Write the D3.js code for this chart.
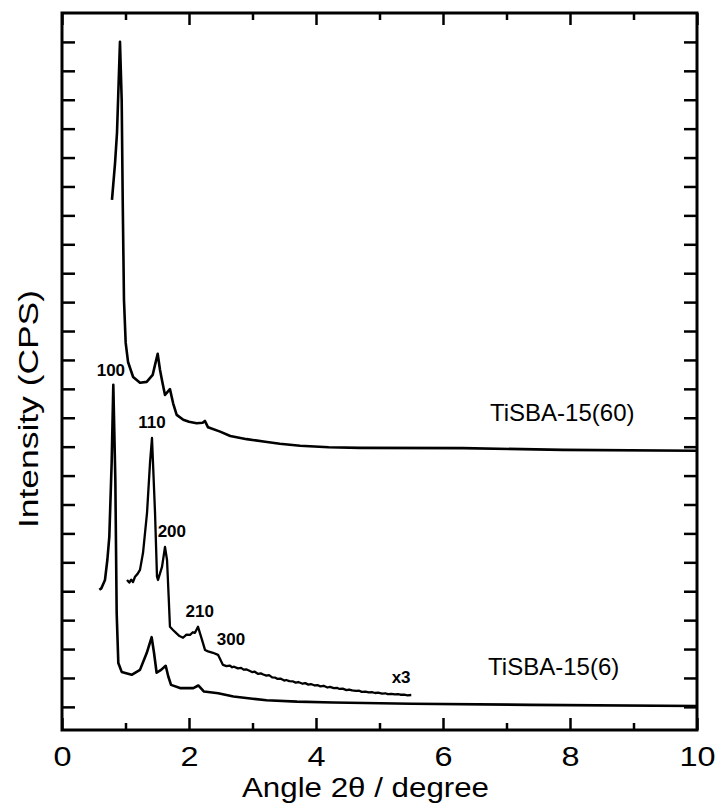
<!DOCTYPE html>
<html>
<head>
<meta charset="utf-8">
<script src="https://cdn.jsdelivr.net/npm/d3@7"></script>
<style>
  html, body { margin: 0; padding: 0; background: #fff; }
  svg { display: block; font-family: "Liberation Sans", Arial, sans-serif; }
</style>
</head>
<body>
<svg id="svg_xrd" width="719" height="808"></svg>
<script>
// TiSBA-15(60) trace  [2theta, intensity]
let tisba60 = [
    [0.787, 17.54], [0.835, 18.8], [0.866, 19.85], [0.913, 23.0], [0.94, 20.99],
    [0.956, 17.54], [0.976, 14.08], [1.003, 12.59], [1.04, 11.93], [1.12, 11.41],
    [1.228, 11.21], [1.334, 11.24], [1.428, 11.48], [1.465, 11.83], [1.507, 12.21],
    [1.543, 11.66], [1.58, 11.24], [1.622, 10.79], [1.70, 10.99], [1.75, 10.5],
    [1.806, 10.1], [1.91, 9.93], [2.0, 9.86], [2.12, 9.81], [2.215, 9.83], [2.25, 9.89],
    [2.30, 9.67], [2.49, 9.52], [2.65, 9.37], [2.91, 9.26], [3.2, 9.17], [3.43, 9.10],
    [3.75, 9.03], [4.2, 8.98], [4.69, 8.96], [6.31, 8.95], [7.89, 8.89], [10.0, 8.86]
]
// TiSBA-15(6) trace
let tisba6 = [
    [0.588, 4.05], [0.62, 4.1], [0.677, 4.39], [0.714, 5.08], [0.745, 5.88],
    [0.782, 8.44], [0.808, 11.14], [0.84, 7.85], [0.861, 3.25], [0.887, 1.52],
    [0.94, 1.21], [1.097, 1.11], [1.228, 1.28], [1.334, 1.86], [1.412, 2.41],
    [1.449, 1.87], [1.49, 1.18], [1.56, 1.28], [1.633, 1.42], [1.674, 1.05],
    [1.717, 0.76], [1.858, 0.65], [2.068, 0.65], [2.147, 0.74], [2.236, 0.53],
    [2.46, 0.47], [2.70, 0.36], [3.0, 0.28], [3.22, 0.23], [3.7, 0.18], [4.27, 0.15],
    [5.5, 0.11], [7.37, 0.07], [10.0, 0.03]
]
// TiSBA-15(6) x3 trace
let tisba6x3 = [
    [1.024, 4.39], [1.06, 4.30], [1.09, 4.40], [1.118, 4.32], [1.15, 4.50],
    [1.19, 4.60], [1.228, 4.74], [1.276, 5.33], [1.339, 6.71], [1.386, 8.44],
    [1.417, 9.30], [1.433, 8.44], [1.465, 6.71], [1.496, 4.50], [1.512, 4.39],
    [1.575, 4.84], [1.622, 5.53], [1.654, 5.08], [1.68, 3.80], [1.70, 2.77],
    [1.748, 2.66], [1.80, 2.55], [1.85, 2.45], [1.906, 2.39], [1.96, 2.50],
    [2.016, 2.49], [2.06, 2.58], [2.094, 2.56], [2.142, 2.77], [2.205, 2.32],
    [2.252, 1.97], [2.30, 1.92], [2.378, 1.87], [2.457, 1.80], [2.535, 1.45],
    [2.59, 1.41], [2.64, 1.43], [2.68, 1.37], [2.71, 1.39], [2.77, 1.33], [2.82, 1.35],
    [2.86, 1.29], [2.9, 1.30], [2.96, 1.24], [3.0, 1.20], [3.03, 1.22], [3.09, 1.14],
    [3.13, 1.16], [3.17, 1.12], [3.22, 1.08], [3.26, 1.10], [3.31, 1.02], [3.36, 1.01],
    [3.39, 0.97], [3.44, 0.98], [3.5, 0.91], [3.53, 0.93], [3.58, 0.89], [3.64, 0.88],
    [3.68, 0.84], [3.72, 0.86], [3.79, 0.80], [3.83, 0.82], [3.88, 0.77], [3.92, 0.79],
    [3.98, 0.74], [4.03, 0.75], [4.07, 0.71], [4.12, 0.73], [4.18, 0.67], [4.22, 0.69],
    [4.28, 0.65], [4.33, 0.66], [4.37, 0.62], [4.42, 0.63], [4.48, 0.58], [4.52, 0.60],
    [4.57, 0.57], [4.63, 0.55], [4.68, 0.56], [4.72, 0.52], [4.78, 0.53], [4.83, 0.50],
    [4.88, 0.51], [4.93, 0.48], [4.98, 0.49], [5.04, 0.46], [5.09, 0.47], [5.13, 0.44],
    [5.19, 0.45], [5.24, 0.43], [5.29, 0.44], [5.33, 0.42], [5.39, 0.42], [5.44, 0.40],
    [5.5, 0.41]
]
// peak / sample labels  [text, 2theta, intensity]
let peak_labels = [
    ['100', 0.77, 11.45], ['110', 1.417, 9.65], ['200', 1.73, 5.88],
    ['210', 2.17, 3.11], ['300', 2.66, 2.14], ['x3', 5.34, 0.83]
]
let sample_labels = [
    ['TiSBA-15(60)', 6.74, 9.89], ['TiSBA-15(6)', 6.71, 1.11]
]
let x_major = [0, 2, 4, 6, 8, 10]
let x_minor = [1, 3, 5, 7, 9]
let y_ticks = d3.range(0, 24)

let svg = d3.select('#svg_xrd');
let m_left = 62, m_right = 697, m_top = 13, m_bottom = 730;

let x = d3.scaleLinear().domain([0, 10]).range([m_left, m_right]);
let y = d3.scaleLinear().domain([-0.8, 24.0]).range([m_bottom, m_top]);

// axes (ticks inward)
function styleAxis(g) {
    g.select('.domain').remove();
    g.selectAll('line').attr('stroke', '#000').attr('stroke-width', 2.5);
}
svg.append('g').attr('transform', `translate(0,${m_bottom})`)
    .call(d3.axisBottom(x).tickValues(x_major).tickSize(-12).tickPadding(17).tickFormat(d3.format('d')))
    .call(styleAxis)
    .selectAll('text')
    .attr('font-size', 27).attr('fill', '#000')
    .attr('font-family', '"Liberation Sans", Arial, sans-serif')
    .attr('transform', 'scale(1.2,1)');
svg.append('g').attr('transform', `translate(0,${m_bottom})`)
    .call(d3.axisBottom(x).tickValues(x_minor).tickSize(-7).tickFormat(''))
    .call(styleAxis);
svg.append('g').attr('transform', `translate(0,${m_top})`)
    .call(d3.axisTop(x).tickValues(x_major).tickSize(-12).tickFormat(''))
    .call(styleAxis);
svg.append('g').attr('transform', `translate(0,${m_top})`)
    .call(d3.axisTop(x).tickValues(x_minor).tickSize(-7).tickFormat(''))
    .call(styleAxis);
svg.append('g').attr('transform', `translate(${m_left},0)`)
    .call(d3.axisLeft(y).tickValues(y_ticks).tickSize(-13).tickFormat(''))
    .call(styleAxis);
svg.append('g').attr('transform', `translate(${m_right},0)`)
    .call(d3.axisRight(y).tickValues(y_ticks).tickSize(-13).tickFormat(''))
    .call(styleAxis);

// frame
svg.append('rect')
    .attr('x', m_left).attr('y', m_top)
    .attr('width', m_right - m_left).attr('height', m_bottom - m_top)
    .attr('fill', 'none').attr('stroke', '#000').attr('stroke-width', 3);

// traces
let line = d3.line()
    .x(d => x(d[0]))
    .y(d => y(d[1]))
svg.append('g').selectAll('path').data([tisba60, tisba6]).enter()
    .append('path')
    .attr('d', d => line(d))
    .attr('fill', 'none')
    .attr('stroke', '#000')
    .attr('stroke-width', 2.6)
    .attr('stroke-linejoin', 'round');
svg.append('path')
    .attr('d', line(tisba6x3))
    .attr('fill', 'none')
    .attr('stroke', '#000')
    .attr('stroke-width', 2.3)
    .attr('stroke-linejoin', 'round');

// labels
svg.append('g').selectAll('text').data(peak_labels).enter()
    .append('text')
    .attr('x', d => x(d[1]))
    .attr('y', d => y(d[2]))
    .attr('text-anchor', 'middle')
    .attr('font-size', 17)
    .attr('font-weight', 'bold')
    .text(d => d[0]);
svg.append('g').selectAll('text').data(sample_labels).enter()
    .append('text')
    .attr('x', d => x(d[1]))
    .attr('y', d => y(d[2]))
    .attr('font-size', 24)
    .text(d => d[0]);

// axis titles
svg.append('text')
    .attr('x', 242).attr('y', 797)
    .attr('font-size', 27)
    .attr('textLength', 247).attr('lengthAdjust', 'spacingAndGlyphs')
    .text('Angle  2θ / degree');
svg.append('text')
    .attr('transform', 'translate(38,409) rotate(-90)')
    .attr('text-anchor', 'middle')
    .attr('font-size', 27)
    .attr('textLength', 238).attr('lengthAdjust', 'spacingAndGlyphs')
    .text('Intensity (CPS)');
</script>
</body>
</html>
